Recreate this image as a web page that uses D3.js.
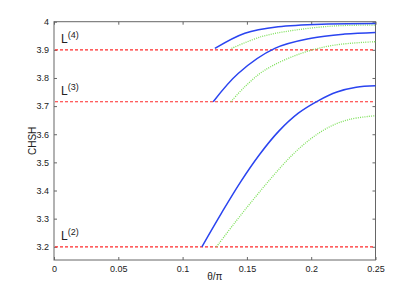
<!DOCTYPE html>
<html><head><meta charset="utf-8">
<script src="https://cdn.jsdelivr.net/npm/d3@7"></script>
<style>body{margin:0;background:#fff}svg{display:block}text{font-family:"Liberation Sans",Arial,sans-serif;fill:#222}</style>
</head><body><svg id="c" width="415" height="294"></svg>
<script>
const xTicks = [0, 0.05, 0.1, 0.15, 0.2, 0.25];
const yTicks = [3.2, 3.3, 3.4, 3.5, 3.6, 3.7, 3.8, 3.9, 4];
const levels = [{name:"4", v:3.9}, {name:"3", v:3.7155}, {name:"2", v:3.2}];
const blue1 = [[0.1251,3.905],[0.1484,3.959],[0.1743,3.982],[0.2131,3.992],[0.25,3.994]];
const blue2 = [[0.1238,3.7156],[0.1432,3.816],[0.1717,3.905],[0.2,3.941],[0.2261,3.956],[0.25,3.962]];
const blue3 = [[0.115,3.2],[0.13,3.318],[0.145,3.43],[0.16,3.529],[0.175,3.612],[0.19,3.675],[0.205,3.718],[0.22,3.75],[0.235,3.767],[0.25,3.772]];
const green1 = [[0.138,3.905],[0.1614,3.947],[0.1873,3.970],[0.2184,3.985],[0.25,3.988]];
const green2 = [[0.1376,3.7156],[0.1484,3.769],[0.164,3.828],[0.1925,3.888],[0.2184,3.917],[0.25,3.929]];
const green3 = [[0.1264,3.2],[0.14,3.282],[0.155,3.368],[0.17,3.45],[0.185,3.525],[0.2,3.585],[0.215,3.628],[0.23,3.653],[0.25,3.666]];

const svg = d3.select("#c");
const L = 54, R = 375.5, T = 21.7, B = 260;
const x = d3.scaleLinear().domain([0,0.25]).range([L,R]);
const y = d3.scaleLinear().domain([3.153,4]).range([B,T]);
const g = svg.append("g");

const axCol = "#666";
const fmtY = d => d===4 ? "4" : d3.format(".1f")(d);
const fmtX = d => d===0 ? "0" : String(+d.toFixed(2));
const ax = [
  d3.axisBottom(x).tickValues(xTicks).tickSize(-3).tickPadding(6).tickFormat(fmtX),
  d3.axisTop(x).tickValues(xTicks).tickSize(-3).tickFormat(""),
  d3.axisLeft(y).tickValues(yTicks).tickSize(-3).tickPadding(5).tickFormat(fmtY),
  d3.axisRight(y).tickValues(yTicks).tickSize(-3).tickFormat("")
];
const tr = [`translate(0,${B})`,`translate(0,${T})`,`translate(${L},0)`,`translate(${R},0)`];
ax.forEach((a,i)=>{
  const s = g.append("g").attr("transform",tr[i]).call(a);
  s.select(".domain").remove();
  s.selectAll(".tick line").attr("stroke",axCol);
  s.selectAll("text").style("font-size","9px").attr("fill","#222");
});
g.append("rect").attr("x",L).attr("y",T).attr("width",R-L).attr("height",B-T)
  .attr("fill","none").attr("stroke",axCol).attr("stroke-width",1);

levels.forEach(l=>{
  g.append("line").attr("x1",L+1).attr("x2",R-1).attr("y1",y(l.v)).attr("y2",y(l.v))
    .attr("stroke","#ff2a2a").attr("stroke-width",1.2).attr("stroke-dasharray","3,2");
  const t = g.append("text").attr("x",x(0.0055)).attr("y",y(l.v)-7).style("font-size","12px");
  t.append("tspan").text("L");
  t.append("tspan").attr("dy",-5).style("font-size","9px").text("("+l.name+")");
});

const line = d3.line().x(d=>x(d[0])).y(d=>y(d[1])).curve(d3.curveCatmullRom.alpha(0.5));
[green1,green2,green3].forEach(s=>{
  g.append("path").attr("d",line(s)).attr("fill","none").attr("stroke","#7ee05a")
    .attr("stroke-width",1.3).attr("stroke-dasharray","1,1.2");
});
[blue1,blue2,blue3].forEach(s=>{
  g.append("path").attr("d",line(s)).attr("fill","none").attr("stroke","#2a44f0")
    .attr("stroke-width",1.5);
});

g.append("text").attr("x",(L+R)/2).attr("y",280).attr("text-anchor","middle")
  .style("font-size","10px").text("θ/π");
g.append("text").attr("transform",`translate(36,${(T+B)/2}) rotate(-90)`).attr("text-anchor","middle")
  .style("font-size","10px").text("CHSH");
</script></body></html>
